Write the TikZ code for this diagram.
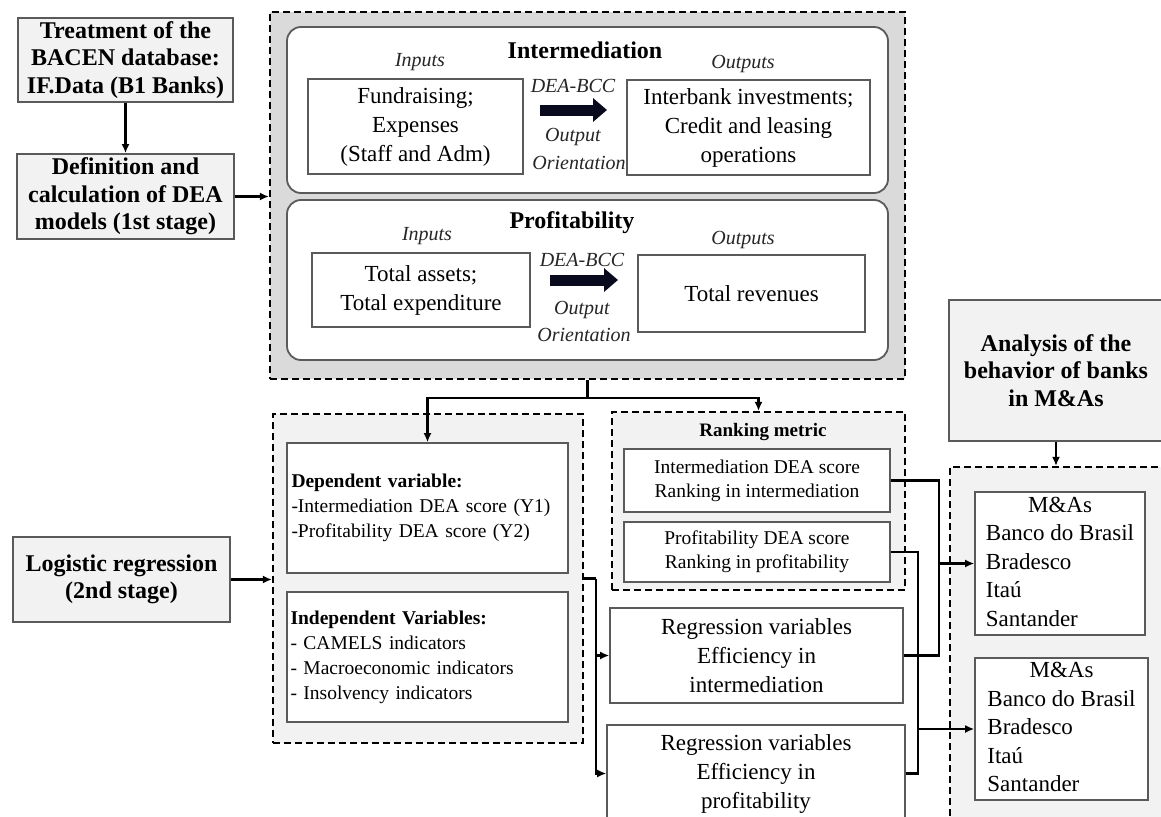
\documentclass[tikz,border=0pt]{standalone}
\usepackage{fontspec}
\setmainfont{Liberation Serif}
\usetikzlibrary{arrows.meta,calc}
\definecolor{boxgray}{HTML}{5A5A5A}
\definecolor{lightfill}{HTML}{F2F2F2}
\definecolor{bigfill}{HTML}{DADADA}
\definecolor{fatblack}{HTML}{0A0A1E}
\begin{document}
\begin{tikzpicture}[x=1pt,y=-1pt,
  box/.style={draw=boxgray, line width=1.6pt, fill=white, inner sep=0pt, align=center, font=\fontsize{23}{29}\selectfont},
  graybox/.style={draw=boxgray, line width=1.8pt, fill=lightfill, inner sep=0pt, align=center, font=\bfseries\fontsize{24}{27.5}\selectfont},
  roundbox/.style={draw=boxgray, line width=1.8pt, fill=white, rounded corners=14pt, inner sep=0pt},
  dashbox/.style={draw=black, line width=2.2pt, dash pattern=on 7pt off 4pt, fill=lightfill, inner sep=0pt},
  lbl/.style={inner sep=0pt, font=\itshape\fontsize{20}{22}\selectfont, text=black!85},
  ttl/.style={inner sep=0pt, font=\bfseries\fontsize{24}{26}\selectfont},
  smallbox/.style={box, font=\fontsize{19.5}{24}\selectfont},
  varbox/.style={box, align=left, font=\fontsize{19.5}{25}\selectfont},
  mabox/.style={box, font=\fontsize{23}{28.5}\selectfont},
  conn/.style={line width=2.2pt, draw=black},
  arr/.style={conn, -{Latex[length=9pt,width=8pt]}},
  fat/.style={line width=11pt, draw=fatblack, -{Triangle[length=14pt,width=23pt]}},
  sz/.style 2 args={minimum width=#1, minimum height=#2}
]
\useasboundingbox (0,0) rectangle (1161,816);
\fill[white] (0,0) rectangle (1161,816);
\clip (0,0) rectangle (1161,816);

% ---- left column
\node[graybox, sz={215pt}{84pt}] (treat) at (125.5,60) {Treatment of the\\BACEN database:\\IF.Data (B1 Banks)};
\node[graybox, sz={217pt}{85pt}] (defn) at (125.5,196.5) {Definition and\\calculation of DEA\\models (1st stage)};
\node[graybox, sz={217pt}{85pt}] (logi) at (121.5,579.5) {Logistic regression\\(2nd stage)};

% ---- big DEA box
\node[dashbox, fill=bigfill, sz={635pt}{367pt}] (big) at (587.5,195.5) {};
\node[roundbox, sz={601pt}{166pt}] (intr) at (587.5,110) {};
\node[roundbox, sz={601pt}{160pt}] (prof) at (587.5,280) {};

\node[ttl] (t1) at (585,50) {Intermediation};
\node[lbl] (i1) at (420,62) {Inputs};
\node[lbl] (o1) at (743,64) {Outputs};
\node[lbl] (d1) at (573,86) {DEA-BCC};
\node[lbl] (p1) at (573,137) {Output};
\node[lbl] (q1) at (579,163) {Orientation};
\node[box, sz={215pt}{95pt}] (in1) at (415.5,126.5) {Fundraising;\\Expenses\\(Staff and Adm)};
\node[box, sz={243pt}{95pt}] (out1) at (748.5,127.5) {Interbank investments;\\Credit and leasing\\operations};
\coordinate (f1a) at (540,110);
\coordinate (f1b) at (607,110);
\draw[fat] (f1a) -- (f1b);

\node[ttl] (t2) at (572,223) {Profitability};
\node[lbl] (i2) at (427,236) {Inputs};
\node[lbl] (o2) at (743,240) {Outputs};
\node[lbl] (d2) at (582,260) {DEA-BCC};
\node[lbl] (p2) at (582,310) {Output};
\node[lbl] (q2) at (584,335) {Orientation};
\node[box, sz={218pt}{74pt}] (in2) at (421,290) {Total assets;\\Total expenditure};
\node[box, sz={227pt}{77pt}] (out2) at (751.5,293.5) {Total revenues};
\coordinate (f2a) at (550,280);
\coordinate (f2b) at (618,280);
\draw[fat] (f2a) -- (f2b);

% ---- regression box
\node[dashbox, sz={310pt}{329pt}] (reg) at (428,578.5) {};
\node[varbox, sz={281pt}{130pt}, text width=272pt, inner xsep=4.5pt] (dep) at (427.5,508)
  {\textbf{Dependent variable:}\\-Intermediation DEA score (Y1)\\-Profitability DEA score (Y2)};
\node[varbox, sz={281pt}{130pt}, text width=274pt, inner xsep=3.5pt] (indep) at (427.5,657)
  {\textbf{Independent Variables:}\\- CAMELS indicators\\- Macroeconomic indicators\\- Insolvency indicators};

% ---- ranking box
\node[dashbox, sz={293pt}{178pt}] (rank) at (758.5,501) {};
\node[inner sep=0pt, font=\bfseries\fontsize{19}{22}\selectfont] (rtitle) at (763,432) {Ranking metric};
\node[smallbox, sz={266pt}{63pt}] (rk1) at (757,480.5) {Intermediation DEA score\\Ranking in intermediation};
\node[smallbox, sz={266pt}{60pt}] (rk2) at (757,552) {Profitability DEA score\\Ranking in profitability};

\node[box, sz={293pt}{95pt}] (rv1) at (756.5,655.5) {Regression variables\\Efficiency in\\intermediation};
\node[box, sz={298pt}{97pt}] (rv2) at (756,773.5) {Regression variables\\Efficiency in\\profitability};

% ---- right column
\node[graybox, sz={214pt}{141pt}] (anal) at (1056,370.5) {Analysis of the\\behavior of banks\\in M\&As};
\node[dashbox, sz={225pt}{363pt}] (madash) at (1062.5,648.5) {};
\node[mabox, sz={170pt}{139pt}] (ma1) at (1060,563.5)
  {\begin{tabular}{@{}l@{}}\multicolumn{1}{@{}c@{}}{M\&As}\\Banco do Brasil\\Bradesco\\Itaú\\Santander\end{tabular}};
\node[mabox, sz={173pt}{138pt}] (ma2) at (1061.5,729)
  {\begin{tabular}{@{}l@{}}\multicolumn{1}{@{}c@{}}{M\&As}\\Banco do Brasil\\Bradesco\\Itaú\\Santander\end{tabular}};

% ---- connectors
\draw[arr] (treat) -- (defn);
\draw[arr] (defn.east) -- (defn.east -| big.west);
\coordinate (j) at ($(big.south)+(0,18)$);
\draw[conn] (big.south) -- (j);
\draw[arr] (j) -| (dep.north);
\draw[arr] (j) -| (rank.north);
\draw[arr] (logi.east) -- (logi.east -| reg.west);
\draw[conn] (reg.east) -- ++(12,0) coordinate (r1);
\draw[arr] (r1) |- (rv1.west);
\draw[arr] (r1) |- (rv2.west);
\draw[conn] (rk1.east) -- ++(48,0) coordinate (c1) |- (rv1.east);
\draw[arr] (c1 |- ma1.west) -- (ma1.west);
\draw[conn] (rk2.east) -- ++(27,0) coordinate (c2) |- (rv2.east);
\draw[arr] (c2 |- ma2.west) -- (ma2.west);
\draw[arr] (anal.south) -- (anal.south |- madash.north);
\end{tikzpicture}
\end{document}
